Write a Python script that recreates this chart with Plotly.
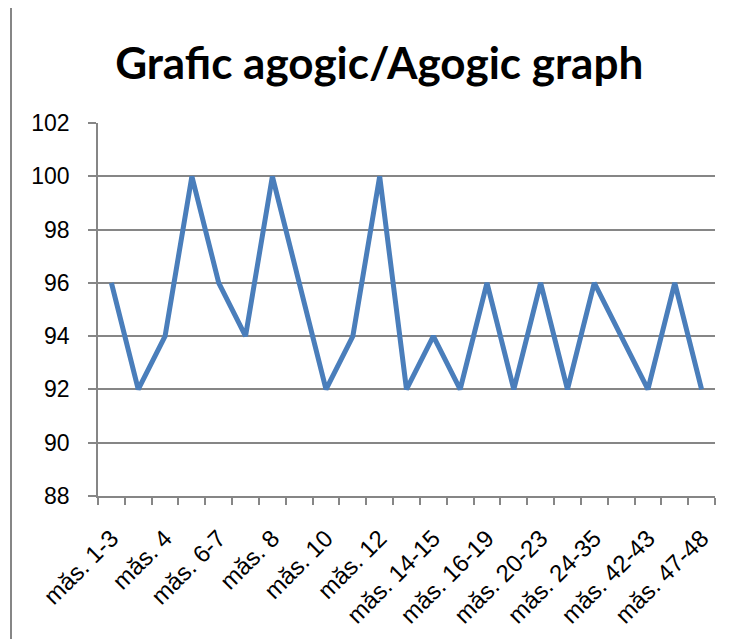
import plotly.graph_objects as go

title_text = "Grafic agogic/Agogic graph"
tick_labels = ["măs. 1-3", "măs. 4", "măs. 6-7", "măs. 8", "măs. 10", "măs. 12",
               "măs. 14-15", "măs. 16-19", "măs. 20-23", "măs. 24-35", "măs. 42-43", "măs. 47-48"]
tempo = [96, 92, 94, 100, 96, 94, 100, 96, 92, 94, 100, 92,
         94, 92, 96, 92, 96, 92, 96, 94, 92, 96, 92]
y_ticks = [88, 90, 92, 94, 96, 98, 100, 102]

positions = list(range(len(tempo)))
label_positions = positions[::2]

GRID = "#868686"
BLUE = "#4A7EBB"

# the page body carries an 8px default margin, so the figure is offset by 8px
W, H = 735, 631
fig = go.Figure()
fig.add_trace(go.Scatter(x=positions, y=tempo, mode="lines",
                         line=dict(color=BLUE, width=5), hoverinfo="skip"))

fig.update_layout(
    width=W, height=H,
    margin=dict(l=90, r=28, t=115, b=143),
    paper_bgcolor="white", plot_bgcolor="white",
    showlegend=False,
    title=dict(text=f"<b>{title_text}</b>", x=0.505, xanchor="center",
               y=1 - (64 - 8) / H, yanchor="middle",
               font=dict(family="Lato", size=44, color="black")),
    font=dict(family="Liberation Sans, Arial", color="black"),
)
fig.update_xaxes(
    range=[-0.5, len(tempo) - 0.5],
    tickmode="array", tickvals=label_positions, ticktext=tick_labels,
    tickangle=-45, tickfont=dict(size=24, family="Liberation Sans, Arial"),
    ticks="outside", ticklen=0, tickcolor=GRID,
    ticklabelstandoff=17,
    showgrid=False, zeroline=False,
    showline=True, linecolor=GRID, linewidth=1.5,
    minor=dict(tickmode="linear", tick0=-0.5, dtick=1, ticks="outside",
               ticklen=7, tickcolor=GRID, tickwidth=1.5, showgrid=False),
)
fig.update_yaxes(
    range=[88, 102], tickvals=y_ticks,
    tickfont=dict(size=23, family="Liberation Sans, Arial"),
    ticks="outside", ticklen=8, tickcolor=GRID, tickwidth=1.5,
    ticklabelstandoff=14,
    showgrid=True, gridcolor=GRID, gridwidth=1.5,
    zeroline=False, showline=True, linecolor=GRID, linewidth=1.5,
)
fig.add_shape(type="line", xref="paper", yref="paper",
              x0=(11 - 98) / 617, x1=(11 - 98) / 617, y0=-0.5, y1=1.5,
              line=dict(color=GRID, width=2))

fig.write_html("out.html")
